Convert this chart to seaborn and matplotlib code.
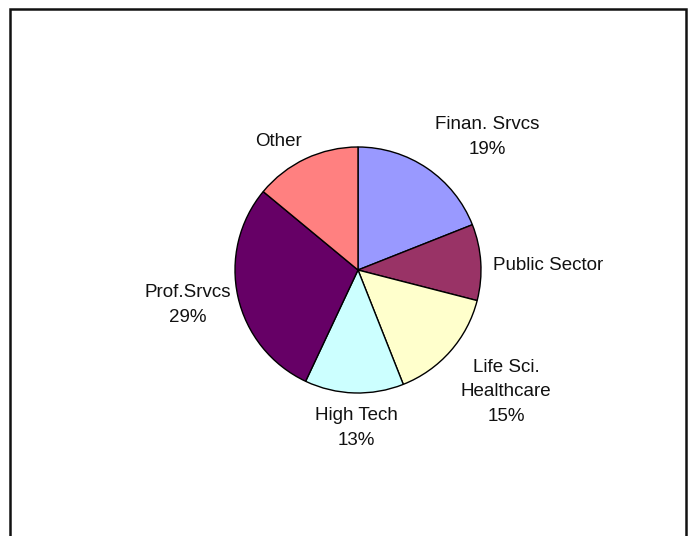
import matplotlib
matplotlib.use("Agg")
import matplotlib.pyplot as plt
import seaborn as sns
from matplotlib.patches import Rectangle

sns.set_theme(style="white")
plt.rcParams['font.family'] = ['Liberation Sans', 'DejaVu Sans']

categories = ["Finan. Srvcs", "Public Sector", "Life Sci.\nHealthcare", "High Tech", "Prof.Srvcs", "Other"]
shares = [19, 10, 15, 13, 29, 14]
show_pct = [True, False, True, True, True, False]
colors = ["#9999FF", "#993366", "#FFFFCC", "#CCFFFF", "#660066", "#FF8080"]

# label layout (pixel centres in the figure)
label_px = [(487, 137), (548, 265), (506, 392), (356, 428), (188, 305), (278, 142)]

W, H = 698, 536
fig = plt.figure(figsize=(W / 100, H / 100), dpi=100)
fig.patch.set_facecolor("white")

cx, cy, r = 358, 270, 123
ax = fig.add_axes([(cx - r) / W, (H - cy - r) / H, 2 * r / W, 2 * r / H])
ax.pie(shares, colors=colors, startangle=90, counterclock=False,
       wedgeprops=dict(edgecolor="black", linewidth=1.0), radius=1.0)
ax.set_xlim(-1.0, 1.0)
ax.set_ylim(-1.0, 1.0)
ax.set_aspect("equal")
ax.axis("off")

for cat, v, sp, (px, py) in zip(categories, shares, show_pct, label_px):
    txt = f"{cat}\n{v}%" if sp else cat
    fig.text(px / W, 1 - py / H, txt, ha="center", va="center",
             fontsize=13.5, color="#111111", linespacing=1.55, multialignment="center")

fig.add_artist(Rectangle((10 / W, -0.05), (686 - 10) / W, (1 - 9 / H) + 0.05,
                         transform=fig.transFigure, fill=False,
                         edgecolor="#111111", linewidth=1.8))

fig.savefig("out.png", dpi=100)
